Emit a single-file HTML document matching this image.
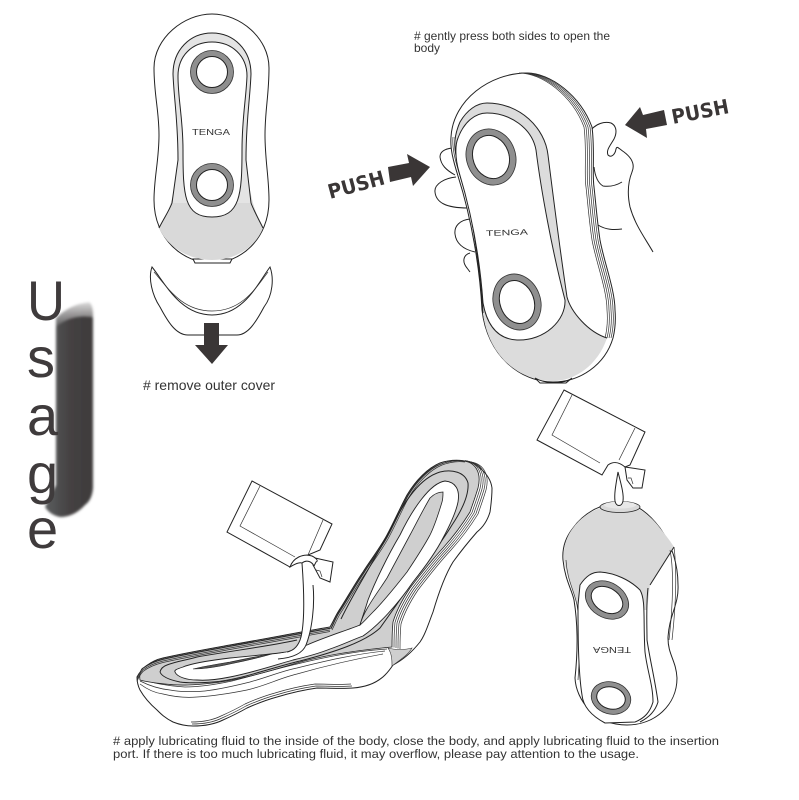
<!DOCTYPE html>
<html><head><meta charset="utf-8"><style>
html,body{margin:0;padding:0;background:#fff}
svg{display:block}
text{font-family:"Liberation Sans",sans-serif}
.l{fill:none;stroke:#222;stroke-width:1}
.t{fill:none;stroke:#333;stroke-width:.7}
.w{fill:#fff;stroke:#222;stroke-width:1}
.g{fill:#d9d9d9;stroke:#222;stroke-width:.8}
.r{fill:#8f8f8f;stroke:#333;stroke-width:.8}
.c{fill:#333;font-size:12px}
.u{fill:#3f3b3c;font-size:56px}
.p{font-family:"DejaVu Sans",sans-serif;font-weight:bold;font-size:20px;fill:#3a3636}
.logo{fill:#333;font-size:8px}
</style></head><body>
<svg width="799" height="800" viewBox="0 0 799 800" xmlns="http://www.w3.org/2000/svg">
<defs>
<linearGradient id="bar" x1="0" x2="1" y1="0" y2="0"><stop offset="0" stop-color="#5a5d5e"/><stop offset=".5" stop-color="#454243"/><stop offset="1" stop-color="#3e3b3b"/></linearGradient>
<linearGradient id="fade" x1="0" x2="0" y1="0" y2="1"><stop offset="0" stop-color="#fff"/><stop offset="1" stop-color="#fff" stop-opacity="0"/></linearGradient>
<filter id="b" x="-20%" y="-20%" width="140%" height="140%"><feGaussianBlur stdDeviation="1.3"/></filter>
<path id="rimR" d="M463 460 C475 462 482 472 478 488 C475 498 472 506 470 512 C462 525 452 538 443 548 C430 562 420 575 410 588 C402 600 396 612 393 622 C392 632 392 640 392 647"/>
<path id="rimL" d="M330 628 C333 622 335 617 338 612 C346 600 354 585 363 572 C372 558 380 548 387 535 C394 522 400 508 407 495 C416 480 428 468 440 463 C448 460 456 459 463 460"/>
<path id="rimB" d="M193 726 C205 726 215 724 223 720 C232 716 240 712 247 708 C256 704 266 700 277 697 C290 693 303 690 317 688 C330 688 342 689 353 688"/>
<path id="lobeTop" d="M137 677 C139 672 141 669 143 667 C148 663 155 660 163 658 C185 653 208 649 230 645 C252 641 275 637 297 633 C308 631 319 629 330 627"/>
<path id="f2R" d="M527 73 C550 73 580 95 592 127 C595 150 592 175 594 187 C596 205 597 220 600 240 C604 262 615 290 615 310 C616 322 615 330 613 338"/>
<path id="f2L" d="M451 137 C450 148 453 160 458 176 C472 220 480 270 482 310"/>
</defs>

<!-- side bar -->
<path d="M56 318 Q70 304 89 302 Q93 304 93 316 L93 488 Q92 500 85 505 Q74 517 60 517 Q50 515 45 507 L56 485 Z" fill="url(#bar)" filter="url(#b)"/>
<path d="M52 296 H96 V318 Q72 312 52 330 Z" fill="url(#fade)" filter="url(#b)"/>
<text class="u" x="27" y="320" textLength="38" lengthAdjust="spacingAndGlyphs">U</text>
<text class="u" x="27" y="377">s</text>
<text class="u" x="27" y="435">a</text>
<text class="u" x="27" y="493">g</text>
<text class="u" x="27" y="548">e</text>

<!-- figure 1 -->
<path class="w" d="M212 14 C240 14 269 38 269 68 C269 95 265 110 265 135 C265 160 269 178 269 200 C269 240 240 263 212 263 C184 263 154 240 154 200 C154 178 159 160 159 135 C159 110 154 95 154 68 C154 38 184 14 212 14Z"/>
<path class="w" d="M193 259 L195 263 H230 L232 259Z"/>
<path d="M159 228 C165 217 170 210 174 190 L250 190 C254 210 258 217 263 228 C255 248 235 260 212 260 C190 260 168 248 159 228Z" fill="#d9d9d9"/>
<path class="l" d="M159 228 C164 218 169 211 172 203 M263 228 C258 218 254 211 251 203"/>
<path d="M212 33 C234 33 251 50 251 74 C250 100 246 120 246 160 L251 203 L172 203 L178 160 C178 120 174 100 173 74 C173 50 190 33 212 33Z" fill="#e4e4e4"/>
<path class="l" d="M172 203 L178 160 C178 120 174 100 173 74 C173 50 190 33 212 33 C234 33 251 50 251 74 C250 100 246 120 246 160 L251 203"/>
<path class="w" d="M212 42 C232 42 247 56 247 76 C246 100 242 118 242 150 C242 195 240 217 212 217 C184 217 183 195 183 150 C183 118 178 100 178 76 C178 56 192 42 212 42Z"/>
<circle class="r" cx="212" cy="72" r="21.5"/><circle class="w" cx="212" cy="72" r="15.5"/>
<circle class="r" cx="212" cy="185" r="21.5"/><circle class="w" cx="212" cy="185" r="15.5"/>
<text class="logo" x="192" y="135" textLength="38" lengthAdjust="spacingAndGlyphs">TENGA</text>
<!-- cover -->
<path class="w" d="M152 267 C165 283 180 315 212 315 C244 315 258 283 270 267 C274 278 273 295 264 307 C256 322 248 335 237 335 H188 C176 335 168 322 160 307 C152 295 148 278 152 267Z"/>
<path class="t" d="M154 272 C168 288 182 311 212 311 C242 311 256 288 268 272"/>
<path d="M204 323 H219 V345 H228 L212 364 L195 345 H204Z" fill="#3a3636"/>
<text class="c" style="font-size:14px" x="143" y="390" textLength="132" lengthAdjust="spacingAndGlyphs">&#35; remove outer cover</text>

<!-- figure 2 -->
<text class="c" x="414" y="40" textLength="196" lengthAdjust="spacingAndGlyphs">&#35; gently press both sides to open the</text>
<text class="c" x="414" y="52" textLength="26" lengthAdjust="spacingAndGlyphs">body</text>
<!-- fingers -->
<path class="l" d="M452 148 C444 149 440 152 440 157 C441 165 446 170 455 175 M456 177 C445 178 434 184 435 192 C436 202 445 208 468 208 M470 219 C460 220 454 226 455 234 C456 243 462 249 475 252 M470 253 C463 255 462 262 467 268 L470 272"/>
<path class="l" d="M591 130 C596 124 604 121 611 123 C617 126 617 133 614 139 C610 146 606 150 608 155 C611 158 615 155 616 149 C617 145 619 149 624 152 C632 158 635 165 632 172 C628 182 627 193 630 207 C635 225 645 238 653 252 M594 167 C595 176 598 183 603 186 C610 187 617 185 622 182 M598 225 C606 230 614 230 622 229"/>
<path class="w" d="M527 73 C550 73 580 95 592 127 C595 150 592 175 594 187 C596 205 597 220 600 240 C604 262 615 290 615 310 C616 322 615 330 613 338 C605 365 580 382 553 382 C520 382 487 355 482 310 C480 270 472 220 458 176 C453 160 450 148 451 137 C453 100 490 73 527 73Z"/>
<use href="#f2R" class="t" transform="translate(-2 0)"/>
<use href="#f2R" class="t" transform="translate(-4 0)"/>
<use href="#f2R" class="t" transform="translate(-6 0)"/>
<use href="#f2R" class="t" transform="translate(-8 0)"/>
<use href="#f2L" class="t" transform="translate(2 0)"/>
<use href="#f2L" class="t" transform="translate(4 0)"/>
<path d="M487 103 C520 103 545 128 548 155 C553 195 560 250 567 297 C571 312 588 332 607 338 C598 365 575 381 553 381 C518 381 488 355 483 313 C480 270 474 220 460 170 C453 150 453 138 460 122 C467 110 477 103 487 103Z" fill="#dcdcdc"/>
<path class="l" d="M483 313 C480 270 474 220 460 170 C453 150 453 138 460 122 C467 110 477 103 487 103 C520 103 545 128 548 155 C553 195 560 250 567 297 C571 312 588 332 607 338"/>
<path class="w" d="M487 113 C510 113 532 128 536 150 C541 190 552 250 565 300 C566 320 545 341 517 340 C497 339 487 325 483 303 C480 260 472 215 459 172 C455 158 455 145 458 138 C464 122 475 113 487 113Z"/>
<ellipse class="r" cx="491" cy="157" rx="24.5" ry="28.5" transform="rotate(-20 491 157)"/>
<ellipse class="w" cx="491" cy="157" rx="18" ry="22" transform="rotate(-20 491 157)"/>
<ellipse class="r" cx="517" cy="302" rx="23.5" ry="28.5" transform="rotate(-20 517 302)"/>
<ellipse class="w" cx="517" cy="302" rx="17" ry="22" transform="rotate(-20 517 302)"/>
<path class="w" d="M535 378 C545 384 565 384 572 378 L566 383 H540Z"/>
<text class="logo" x="486" y="236" textLength="42" lengthAdjust="spacingAndGlyphs" transform="rotate(-2 486 236)">TENGA</text>
<text class="p" transform="translate(330 199) rotate(-15)" textLength="58" lengthAdjust="spacingAndGlyphs">PUSH</text>
<text class="p" transform="translate(673 124) rotate(-11)" textLength="58" lengthAdjust="spacingAndGlyphs">PUSH</text>
<path d="M430 167 L407 154 L409 163 L388 167 L390 182 L411 177 L413 186Z" fill="#3a3636"/>
<path d="M625 125 L640 107 L643 115 L664 110 L667 125 L646 129 L647 138Z" fill="#3a3636"/>

<!-- figure 4 -->
<path class="w" d="M564 390 L645 432 L630 465 L625 467 C618 461 612 462 608 465 L602 475 L537 440Z"/>
<path class="t" d="M572 395 L552 435 L600 463 M635 428 L619 460"/>
<path class="w" d="M625 467 L645 470 L642 488 L633 488 L627 480Z"/>
<path class="t" d="M628 478 L631 478 L633 484"/>
<path class="w" d="M620 503 C600 503 583 514 573 528 C565 538 562 548 563 560 C565 580 572 590 574 600 C578 625 578 650 575 678 C576 700 595 725 627 725 C655 725 677 705 677 678 C676 660 668 655 668 638 C669 615 679 605 678 585 C678 565 672 545 660 528 C650 515 638 503 620 503Z"/>
<path d="M564 560 C563 548 566 537 573 528 C583 514 600 505 620 505 C638 505 650 515 660 528 C667 537 671 542 674 547 L650 585 L647 610 L578 610 C574 590 566 575 564 560Z" fill="#d9d9d9"/>
<path class="l" d="M674 547 L650 585"/>
<path class="t" d="M566 560 C567 580 574 590 577 605 C581 630 580 650 578 680 M674 547 C677 570 676 605 672 640 M670 550 C674 570 673 605 669 640"/>
<path class="l" d="M648 588 C646 605 647 625 647 640 C650 660 655 680 658 702 C655 712 648 718 640 722"/>
<path class="w" d="M580 585 C586 576 592 572 600 572 C615 573 630 580 640 590 C646 600 643 620 645 652 C647 670 653 685 653 702 C650 712 645 718 635 722 L605 723 C590 715 583 705 582 695 C578 670 578 630 578 605Z"/>
<ellipse class="r" cx="607" cy="600" rx="23" ry="17.5" transform="rotate(32 607 600)"/>
<ellipse class="w" cx="607" cy="600" rx="17" ry="12" transform="rotate(32 607 600)"/>
<ellipse class="r" cx="611" cy="698" rx="20" ry="16" transform="rotate(15 611 698)"/>
<ellipse class="w" cx="611" cy="698" rx="14.5" ry="11" transform="rotate(15 611 698)"/>
<text class="logo" x="0" y="0" transform="translate(631 647) rotate(180)" textLength="38" lengthAdjust="spacingAndGlyphs">TENGA</text>
<ellipse class="g" cx="620" cy="507" rx="20" ry="5.5"/>
<ellipse cx="620" cy="505" rx="16" ry="3.5" fill="#e8e8e8"/>
<path class="w" d="M618 472 C621 484 624 494 623 501 C622 507 616 507 615 501 C614 494 616 484 618 472Z"/>

<!-- figure 3: silhouette -->
<path class="w" d="M137 677 C141 669 150 661 163 658 C185 653 208 649 230 645 C265 639 300 632 330 627 C333 622 335 617 338 612 C346 600 354 585 363 572 C372 558 380 548 387 535 C394 522 400 508 407 495 C416 480 428 468 440 463 C455 458 472 460 480 468 C487 474 491 480 492 488 C492 497 491 505 490 512 C487 522 482 528 477 532 C470 540 461 551 453 562 C445 575 438 595 433 612 C428 625 425 635 420 642 C412 652 403 660 393 665 C391 668 389 671 385 675 C378 682 367 687 353 688 C342 689 330 688 317 688 C303 690 290 693 277 697 C266 700 256 704 247 708 C240 712 232 716 223 720 C215 724 205 726 193 726 C185 726 178 724 173 722 C165 718 161 714 157 710 C150 704 144 697 140 690 C138 686 137 681 137 677Z"/>
<use href="#rimB" class="t" transform="translate(-1 -2)"/>
<use href="#rimB" class="t" transform="translate(-2 -4)"/>
<!-- lines below lower lobe -->
<path class="t" d="M140 684 C148 690 155 693 163 694 C175 697 186 698 197 697 C215 696 232 693 247 690 C265 686 280 678 297 674 C325 666 355 659 383 654"/>
<path class="t" d="M140 681 C150 686 160 689 170 690 C180 692 195 692 205 691 C222 689 238 685 250 682 C268 677 282 671 297 668 C325 661 355 654 385 651"/>
<path class="t" d="M141 679 C155 684 170 686 185 687 C200 687 218 684 232 681 C252 676 275 669 297 664 C325 657 355 651 387 649"/>
<!-- grey surface -->
<path d="M140 680 C139 674 141 669 143 668 C148 664 155 661 163 659 C185 654 208 650 230 646 C265 640 300 633 331 628 C334 622 336 617 339 612 C347 600 355 585 364 572 C373 558 381 548 388 535 C395 522 401 508 408 495 C417 480 429 468 441 464 C450 461 456 460 463 461 C475 462 482 472 478 488 C475 498 472 506 470 512 C462 525 452 538 443 548 C430 562 420 575 410 588 C402 600 396 612 393 622 C392 632 392 640 392 647 C360 650 325 655 297 663 C270 671 240 680 213 683 C195 685 180 686 165 684 C155 683 147 682 140 680Z" fill="#cfcfcf" stroke="#222" stroke-width=".8"/>
<use href="#rimR" class="t" transform="translate(2 .5)"/>
<use href="#rimR" class="t" transform="translate(4 1)"/>
<use href="#rimR" class="t" transform="translate(6 1.5)"/>
<use href="#rimR" class="t" transform="translate(8 2)"/>
<use href="#rimL" class="t" transform="translate(1 1)"/>
<use href="#rimL" class="t" transform="translate(2 2)"/>
<use href="#lobeTop" class="t" transform="translate(0 1.5)"/>
<use href="#lobeTop" class="t" transform="translate(0 3)"/>
<use href="#lobeTop" class="t" transform="translate(0 4.5)"/>
<path d="M388 648 C392 654 392 660 392 666 C400 660 408 655 412 648 C405 650 395 650 388 648Z" fill="#cfcfcf" stroke="#333" stroke-width=".6"/>
<!-- inner grey contour -->
<path class="l" d="M160 672 C161 668 164 666 167 665 C177 661 187 660 197 657 C230 651 265 647 297 640 M341 619 C355 590 372 565 390 530 C405 500 420 478 440 472 C452 469 465 472 468 483 C469 495 462 510 452 525 C440 545 425 563 412 582 C402 597 393 610 380 628 C365 642 335 652 300 661 C270 668 240 680 213 682 C198 683 187 683 180 682 C170 680 162 677 160 672"/>
<!-- white channel -->
<path fill="#fff" stroke="#222" stroke-width=".9" d="M287 652 C265 655 248 656 230 658 C205 661 190 664 183 667 C177 669 174 670 175 672 C177 677 187 680 197 680 C208 681 220 679 230 677 C255 672 275 665 293 660 C310 656 320 653 330 649 C342 645 352 640 363 636 C378 626 398 604 413 582 C425 567 437 550 443 538 C450 525 456 512 458 502 C460 490 456 482 445 481 C430 483 412 510 400 535 C388 555 375 582 368 600 C365 610 362 618 360 625 C345 631 325 637 307 645Z"/>
<!-- central slit upper -->
<path d="M360 625 C364 610 376 595 387 578 C395 563 403 548 410 535 C418 520 424 508 430 498 C434 494 438 492 443 492 C443 495 443 499 442 502 C439 512 435 525 430 535 C423 548 415 560 407 572 C396 586 385 600 373 612 C368 617 364 622 360 625Z" fill="#cfcfcf" stroke="#222" stroke-width=".8"/>
<!-- slit lower -->
<path d="M193 669 C205 666 218 664 230 662 C245 659 258 656 272 654 C258 658 245 661 230 664 C217 667 205 669 193 669Z" fill="#555" stroke="#222" stroke-width=".6"/>
<!-- stream -->
<path fill="#fff" d="M302 562 C304 590 305 620 301 637 C298 648 290 652 283 653 L272 655 L278 659 C290 658 302 655 306 645 C312 630 315 605 313 585 C312 575 308 565 303 558Z"/>
<path class="l" d="M302 563 C304 590 305 620 301 637 C298 648 292 651 287 652 M313 585 C315 605 312 630 306 645 C302 655 290 658 278 659"/>
<!-- packet -->
<path class="w" d="M252 481 L332 524 L320 550 L308 555 L299 557 L290 567 L227 532Z"/>
<path class="t" d="M260 486 L240 526 L295 557 M323 520 L308 555"/>
<path class="w" d="M315 558 L333 562 L330 582 L320 578 L313 565Z"/>
<path class="t" d="M316 570 L320 571 L322 577"/>
<path fill="#fff" stroke="#222" stroke-width="1" d="M290 567 C293 558 303 553 312 556 C316 558 319 561 316 562 L314 566 C312 562 307 559 302 563 C299 562 295 564 290 567Z"/>

<!-- bottom caption -->
<text class="c" x="113" y="745" textLength="606" lengthAdjust="spacingAndGlyphs" style="font-size:12.4px">&#35; apply lubricating fluid to the inside of the body, close the body, and apply lubricating fluid to the insertion</text>
<text class="c" x="113" y="758" textLength="526" lengthAdjust="spacingAndGlyphs" style="font-size:12.4px">port. If there is too much lubricating fluid, it may overflow, please pay attention to the usage.</text>
</svg>
</body></html>
